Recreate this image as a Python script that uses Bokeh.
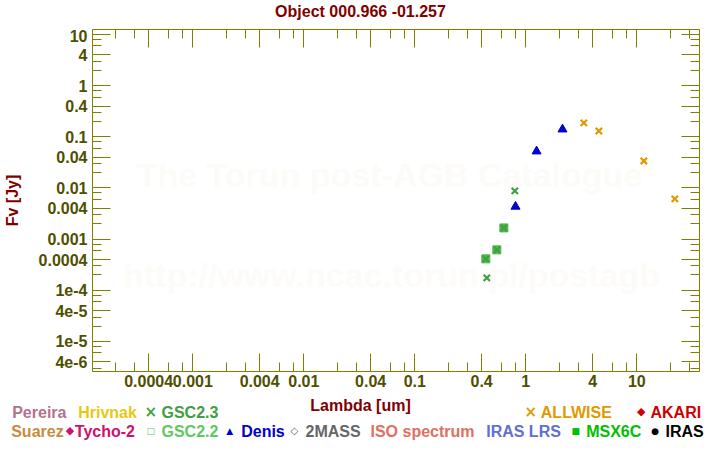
from bokeh.plotting import figure
from bokeh.layouts import column, row
from bokeh.models import (LogAxis, FixedTicker, CustomJSTickFormatter, Label, Range1d,
                          ColumnDataSource)
from bokeh.core.properties import value
from bokeh.embed import file_html
from bokeh.resources import INLINE

# ---------------- data ----------------
denis_lambda = [0.807, 1.25, 2.14]
denis_flux = [0.00433, 0.0521, 0.140]

allwise_lambda = [3.33, 4.55, 11.56, 22.0]
allwise_flux = [0.187, 0.130, 0.0338, 0.00612]

gsc23_lambda = [0.796, 0.445, 0.634, 0.548, 0.436]
gsc23_flux = [0.00878, 1.75e-4, 0.00166, 6.18e-4, 4.12e-4]

gsc22_lambda = [0.634, 0.548, 0.436]
gsc22_flux = [0.00166, 6.18e-4, 4.12e-4]

x_major_ticks = [0.0004, 0.001, 0.004, 0.01, 0.04, 0.1, 0.4, 1, 4, 10]
x_tick_labels = ["0.0004", "0.001", "0.004", "0.01", "0.04", "0.1", "0.4", "1", "4", "10"]
x_minor_ticks = [0.0002, 0.0003, 0.0006, 0.0008, 0.002, 0.003, 0.006, 0.008,
                 0.02, 0.03, 0.06, 0.08, 0.2, 0.3, 0.6, 0.8, 2, 3, 6, 8, 20, 30]

y_major_ticks = [4e-6, 1e-5, 4e-5, 1e-4, 4e-4, 1e-3, 4e-3, 0.01, 0.04, 0.1, 0.4, 1, 4, 10]
y_tick_labels = ["4e-6", "1e-5", "4e-5", "1e-4", "0.0004", "0.001", "0.004", "0.01",
                 "0.04", "0.1", "0.4", "1", "4", "10"]
y_minor_ticks = [3e-6, 6e-6, 8e-6, 2e-5, 3e-5, 6e-5, 8e-5, 2e-4, 3e-4, 6e-4, 8e-4,
                 2e-3, 3e-3, 6e-3, 8e-3, 0.02, 0.03, 0.06, 0.08, 0.2, 0.3, 0.6, 0.8,
                 2, 3, 6, 8]

title_text = "Object 000.966 -01.257"
x_label = "Lambda [um]"
y_label = "Fv [Jy]"

legend_names = ["Pereira", "Hrivnak", "GSC2.3", "ALLWISE", "AKARI",
                "Suarez", "Tycho-2", "GSC2.2", "Denis", "2MASS",
                "ISO spectrum", "IRAS LRS", "MSX6C", "IRAS"]
legend_colors = ["#b4728e", "#e8c810", "#40a040", "#e09a00", "#d00000",
                 "#c88c40", "#d0106c", "#60c860", "#0000d0", "#666666",
                 "#e07060", "#6070d0", "#00c000", "#000000"]
legend_symbols = ["", "", "\u00d7", "\u00d7", "\u25c6",
                  "", "\u25c6", "\u25a1", "\u25b2", "\u25c7",
                  "", "", "\u25a0", "\u25cf"]

FONT = "Liberation Sans"
AXIS_COL = "#808000"
TICKLAB_COL = "#4f4f00"
DARKRED = "#800000"

def strip(h, y_top, y_bottom):
    f = figure(width=720, height=h, x_range=Range1d(0, 720), y_range=Range1d(y_bottom, y_top),
               output_backend="svg", toolbar_location=None, x_axis_type=None, y_axis_type=None,
               min_border=0, min_border_left=0, min_border_right=0, min_border_top=0,
               min_border_bottom=0, outline_line_color=None,
               background_fill_color="white", border_fill_color="white")
    f.grid.visible = False
    return f

# ---------------- top strip: title ----------------
t = strip(29, 0, 29)
t.text(x=[360], y=[10.7], text=[title_text], text_align="center", text_baseline="alphabetic",
       text_font=value(FONT), text_font_style="bold", text_font_size="16px",
       text_color=DARKRED)

# ---------------- main plot ----------------
p = figure(width=720, height=366, x_axis_type="log", y_axis_type="log",
           x_range=Range1d(1.248e-4, 36.7), y_range=Range1d(2.59e-6, 12.52),
           output_backend="svg", toolbar_location=None,
           min_border_left=92, min_border_right=21, min_border_top=0, min_border_bottom=24,
           background_fill_color="white", border_fill_color="white",
           outline_line_color=None)
p.grid.visible = False

def fmt(ticks, labels):
    return CustomJSTickFormatter(args=dict(t=ticks, l=labels), code="""
for (let i = 0; i < t.length; i++) {
  if (Math.abs(t[i] - tick) <= 1e-6 * Math.abs(t[i])) return l[i];
}
return "";
""")

def style(ax, ticks, minors, labels, show_labels):
    ax.ticker = FixedTicker(ticks=ticks, minor_ticks=minors)
    ax.major_label_text_font = FONT
    ax.major_label_text_font_style = "bold"
    ax.major_label_text_color = TICKLAB_COL
    if show_labels:
        ax.formatter = fmt(ticks, labels)
        ax.major_label_text_font_size = "16px"
    else:
        ax.formatter = CustomJSTickFormatter(code="return '';")
        ax.major_label_standoff = 0
        ax.major_label_text_font_size = "0px"
    ax.axis_line_color = AXIS_COL
    ax.axis_line_width = 1
    ax.major_tick_line_color = AXIS_COL
    ax.minor_tick_line_color = AXIS_COL
    ax.major_tick_in = 18
    ax.major_tick_out = 0
    ax.minor_tick_in = 9
    ax.minor_tick_out = 0
    ax.axis_label_text_font = FONT
    ax.axis_label_text_font_style = "bold"
    ax.axis_label_text_font_size = "16px"
    ax.axis_label_text_color = DARKRED

xa = p.xaxis[0]
style(xa, x_major_ticks, x_minor_ticks, x_tick_labels, True)
xa.major_label_standoff = 3

ya = p.yaxis[0]
style(ya, y_major_ticks, y_minor_ticks, y_tick_labels, True)
ya.axis_label = y_label
ya.major_label_standoff = 5
ya.axis_label_standoff = 15

top = LogAxis()
style(top, x_major_ticks, x_minor_ticks, x_tick_labels, False)
p.add_layout(top, "above")
right = LogAxis()
style(right, y_major_ticks, y_minor_ticks, y_tick_labels, False)
p.add_layout(right, "right")

# watermark
for txt, yy in [("The Torun post-AGB Catalogue", 371 - 174), ("http://www.ncac.torun.pl/postagb", 371 - 274)]:
    p.add_layout(Label(x=297 if yy > 150 else 299, y=yy, x_units="screen", y_units="screen",
                       text=txt, text_align="center", text_baseline="alphabetic",
                       text_font=FONT, text_font_style="bold", text_font_size="34px",
                       text_color="#fcfbf7", level="underlay"))

# data glyphs
p.scatter(gsc22_lambda, gsc22_flux, marker="square", size=8, fill_color="#4cbb4c",
          line_color="#4cbb4c")
p.scatter(gsc23_lambda, gsc23_flux, marker="x", size=9, line_color="#3fa03f", line_width=2.2)
p.scatter(denis_lambda, denis_flux, marker="triangle", size=9, fill_color="#0000cc",
          line_color="#0000cc")
p.scatter(allwise_lambda, allwise_flux, marker="x", size=9, line_color="#e09a00", line_width=2.2)

# ---------------- bottom strip: x-axis label and legend ----------------
q = strip(55, 395, 450)

q.text(x=[360], y=[405], text=[x_label], text_align="center", text_baseline="alphabetic",
       text_font=value(FONT), text_font_style="bold", text_font_size="16px",
       text_color=DARKRED)

# legend layout (positions only)
legend_text_x = [11.7, 77.7, 161, 540.3, 650, 10.7, 74.3, 161, 240.7, 305, 370, 485.7, 585.7, 665]
legend_sym_x = [0, 0, 150.3, 530.3, 640.8, 0, 69.5, 150.3, 229.2, 293.8, 0, 0, 575.3, 654.7]
legend_row = [1, 1, 1, 1, 1, 2, 2, 2, 2, 2, 2, 2, 2, 2]
legend_sym_size = ["15px", "15px", "15px", "15px", "11px", "11px", "11px", "9px", "9px",
                   "10px", "9px", "9px", "9px", "9px"]
row_base = {1: 411.7, 2: 430.7}
row_mid = {1: 411.0, 2: 430.0}

src_t = ColumnDataSource(dict(x=legend_text_x, y=[row_base[r] for r in legend_row],
                              t=legend_names, c=legend_colors))
q.text(x="x", y="y", text="t", text_color="c", source=src_t, text_align="left",
       text_baseline="alphabetic", text_font=value(FONT), text_font_style="bold",
       text_font_size="16px")

idx = [i for i, s in enumerate(legend_symbols) if s]
src_s = ColumnDataSource(dict(x=[legend_sym_x[i] for i in idx],
                              y=[row_mid[legend_row[i]] for i in idx],
                              t=[legend_symbols[i] for i in idx],
                              c=[legend_colors[i] for i in idx],
                              fs=[legend_sym_size[i] for i in idx]))
q.text(x="x", y="y", text="t", text_color="c", text_font_size="fs", source=src_s,
       text_align="center", text_baseline="middle", text_font=value("DejaVu Sans"),
       text_font_style="bold")

layout = column(row(t), p, row(q), spacing=0)
open("out.html", "w").write(file_html(layout, INLINE))
